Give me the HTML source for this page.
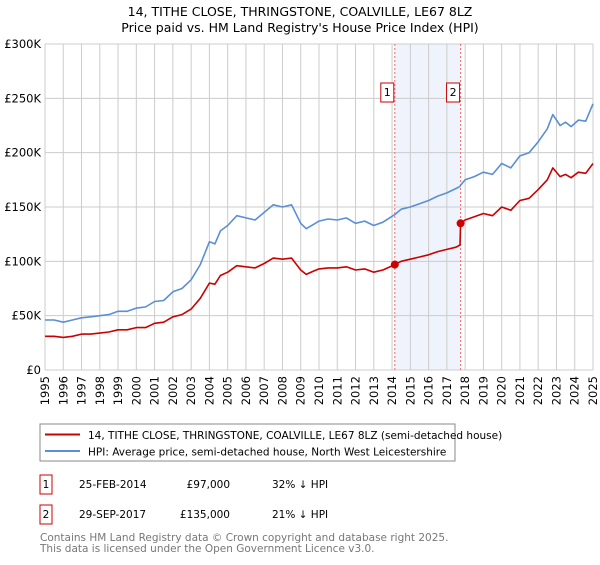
<!DOCTYPE html>
<html><head><meta charset="utf-8"><style>
body{margin:0;background:#fff;font-family:"Liberation Sans","DejaVu Sans",sans-serif;}
svg text{font-family:"DejaVu Sans","Liberation Sans",sans-serif;}
</style></head><body>
<svg id="chart" width="600" height="560" xmlns="http://www.w3.org/2000/svg">
<text x="300" y="16" text-anchor="middle" font-size="12.5" fill="#000">14, TITHE CLOSE, THRINGSTONE, COALVILLE, LE67 8LZ</text>
<text x="300" y="32" text-anchor="middle" font-size="12.5" fill="#000">Price paid vs. HM Land Registry's House Price Index (HPI)</text>
<g id="grid"></g><g id="marks"></g><g id="axes"></g>
<rect x="40" y="424" width="415" height="37" fill="#fff" stroke="#888"/>
<line x1="45" y1="434.5" x2="80" y2="434.5" stroke="#cc0000" stroke-width="2"/>
<text x="88" y="439" font-size="10.5">14, TITHE CLOSE, THRINGSTONE, COALVILLE, LE67 8LZ (semi-detached house)</text>
<line x1="45" y1="451" x2="80" y2="451" stroke="#5b8fd4" stroke-width="2"/>
<text x="88" y="455.5" font-size="10.5">HPI: Average price, semi-detached house, North West Leicestershire</text>
<g>
<rect x="40" y="475" width="12" height="19" fill="#fff" stroke="#cc0000"/><text x="46" y="488" text-anchor="middle" font-size="10.5">1</text>
<text x="79" y="488" font-size="10.5">25-FEB-2014</text><text x="230" y="488" text-anchor="end" font-size="10.5">£97,000</text><text x="272" y="488" font-size="10.5">32% ↓ HPI</text></g>
<g>
<rect x="40" y="505" width="12" height="19" fill="#fff" stroke="#cc0000"/><text x="46" y="518" text-anchor="middle" font-size="10.5">2</text>
<text x="79" y="518" font-size="10.5">29-SEP-2017</text><text x="230" y="518" text-anchor="end" font-size="10.5">£135,000</text><text x="272" y="518" font-size="10.5">21% ↓ HPI</text></g>
<text x="40" y="541" font-size="10.5" fill="#777">Contains HM Land Registry data © Crown copyright and database right 2025.</text>
<text x="40" y="552" font-size="10.5" fill="#777">This data is licensed under the Open Government Licence v3.0.</text>
</svg>
<script>
const dates=[1995,1995.5,1996,1996.5,1997,1997.5,1998,1998.5,1999,1999.5,2000,2000.5,2001,2001.5,2002,2002.5,2003,2003.5,2004,2004.3,2004.6,2005,2005.5,2006,2006.5,2007,2007.5,2008,2008.5,2009,2009.3,2009.7,2010,2010.5,2011,2011.5,2012,2012.5,2013,2013.5,2014.15,2014.5,2015,2015.5,2016,2016.5,2017,2017.5,2017.72,2017.75,2018,2018.5,2019,2019.5,2020,2020.5,2021,2021.5,2022,2022.5,2022.8,2023.2,2023.5,2023.8,2024.2,2024.6,2025];
const hpi=[46,46,44,46,48,49,50,51,54,54,57,58,63,64,72,75,83,97,118,116,128,133,142,140,138,145,152,150,152,135,130,134,137,139,138,140,135,137,133,136,143,148,150,153,156,160,163,167,169,170,175,178,182,180,190,186,197,200,210,222,235,225,228,224,230,229,245];
const price=[31,31,30,31,33,33,34,35,37,37,39,39,43,44,49,51,56,66,80,79,87,90,96,95,94,98,103,102,103,92,88,91,93,94,94,95,92,93,90,92,97,100,102,104,106,109,111,113,115,135,138,141,144,142,150,147,156,158,166,175,186,178,180,177,182,181,190];
const yTicks=[0,50,100,150,200,250,300];
const yTickLabels=["£0","£50K","£100K","£150K","£200K","£250K","£300K"];
const years=[];for(let y=1995;y<=2025;y++)years.push(y);
const sales=[{n:"1",t:2014.15,v:97},{n:"2",t:2017.75,v:135}];
const X0=45,X1=593,Y0=370,Y1=44;
const xs=t=>X0+(t-1995)/30*(X1-X0);
const ys=v=>Y0-v/300*(Y0-Y1);
const NS="http://www.w3.org/2000/svg";
function mk(tag,attrs,parent){const e=document.createElementNS(NS,tag);for(const k in attrs)e.setAttribute(k,attrs[k]);parent.appendChild(e);return e;}
const grid=document.getElementById('grid'),marks=document.getElementById('marks'),axes=document.getElementById('axes');
// shaded region
const sh=mk('rect',{x:xs(sales[0].t),y:Y1,width:xs(sales[1].t)-xs(sales[0].t),height:Y0-Y1,fill:'#eef3fc'},grid);


years.forEach(y=>{
 const l=mk('line',{x1:xs(y),x2:xs(y),y1:Y1,y2:Y0,stroke:'#cccccc','stroke-width':1},grid);
 
 
 const t=mk('text',{x:0,y:0,'font-size':'11.5',transform:`translate(${xs(y)+4},${Y0+6}) rotate(-90)`,'text-anchor':'end'},axes);
 t.textContent=y;
 
 
});
yTicks.forEach((v,i)=>{
 const l=mk('line',{x1:X0,x2:X1,y1:ys(v),y2:ys(v),stroke:'#cccccc','stroke-width':1},grid);
 
 
 const t=mk('text',{x:X0-4,y:ys(v)+4,'font-size':'11.5','text-anchor':'end'},axes);
 t.textContent=yTickLabels[i];
 
 
});
sales.forEach(s=>{
 const l=mk('line',{x1:xs(s.t),x2:xs(s.t),y1:Y1,y2:Y0,stroke:'#ff6666','stroke-width':1,'stroke-dasharray':'2,2'},grid);
 
 
});
function path(arr,color,name){
 const d=dates.map((t,i)=>(i?'L':'M')+xs(t).toFixed(1)+','+ys(arr[i]).toFixed(1)).join('');
 const p=mk('path',{d:d,fill:'none',stroke:color,'stroke-width':1.6,'stroke-linejoin':'round'},marks);
 
 
}
path(hpi,'#5b8fd4','hpi-line');
path(price,'#cc0000','price-paid-line');
sales.forEach(s=>{
 const c=mk('circle',{cx:xs(s.t),cy:ys(s.v),r:4,fill:'#cc0000'},marks);
 
 
 const g=mk('g',{},marks);
 
 
 mk('rect',{x:xs(s.t)-14,y:83,width:13,height:19,fill:'#fff',stroke:'#cc0000'},g);
 const t=mk('text',{x:xs(s.t)-7.5,y:96,'font-size':'11','text-anchor':'middle'},g);
 t.textContent=s.n;
});
</script>
</body></html>
